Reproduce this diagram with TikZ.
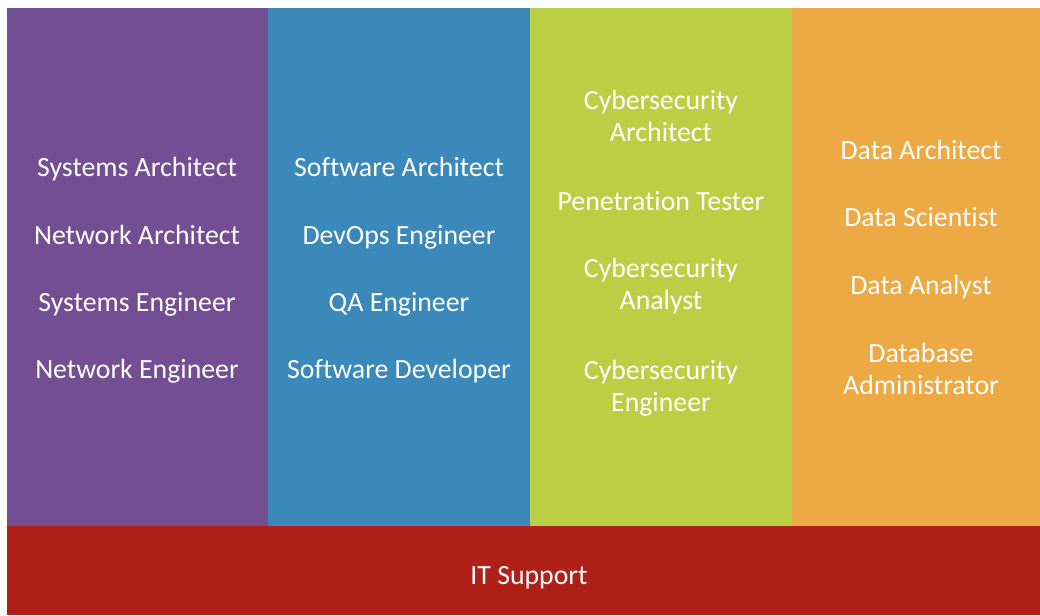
\documentclass[tikz,border=0pt]{standalone}
\usepackage{fontspec}
\setmainfont{Carlito}[Ligatures=NoCommon]
\definecolor{cpurple}{HTML}{744E93}
\definecolor{cblue}{HTML}{3A89BA}
\definecolor{cgreen}{HTML}{BBCF45}
\definecolor{corange}{HTML}{EDA944}
\definecolor{cred}{HTML}{AF2118}
\begin{document}
\begin{tikzpicture}[x=1pt,y=-1pt,
  lbl/.style={text=white,font=\fontsize{27.8}{31.5}\selectfont,align=center,inner sep=0pt,anchor=base}]
\useasboundingbox (0,0) rectangle (1040,615);
\fill[white] (0,0) rectangle (1040,615);
\fill[cpurple] (7,8) rectangle (268,526);
\fill[cblue] (268,8) rectangle (530,526);
\fill[cgreen] (530,8) rectangle (792,526);
\fill[corange] (792,8) rectangle (1040,526);
\fill[cred] (7,526) rectangle (1040,615);
\node[lbl] (p1) at (137,176) {Systems Architect};
\node[lbl] (p2) at (137,244) {Network Architect};
\node[lbl] (p3) at (137,311) {Systems Engineer};
\node[lbl] (p4) at (137,378) {Network Engineer};
\node[lbl] (b1) at (399,176) {Software Architect};
\node[lbl] (b2) at (399,244) {DevOps Engineer};
\node[lbl] (b3) at (399,311) {QA Engineer};
\node[lbl] (b4) at (399,378) {Software Developer};
\node[lbl] (g1) at (661,141) {Cybersecurity\\Architect};
\node[lbl] (g2) at (661,210) {Penetration Tester};
\node[lbl] (g3) at (661,309) {Cybersecurity\\Analyst};
\node[lbl] (g4) at (661,411) {Cybersecurity\\Engineer};
\node[lbl] (o1) at (921,159) {Data Architect};
\node[lbl] (o2) at (921,226) {Data Scientist};
\node[lbl] (o3) at (921,294) {Data Analyst};
\node[lbl] (o4) at (921,394) {Database\\Administrator};
\node[lbl] (it) at (529,584) {IT Support};
\end{tikzpicture}
\end{document}
